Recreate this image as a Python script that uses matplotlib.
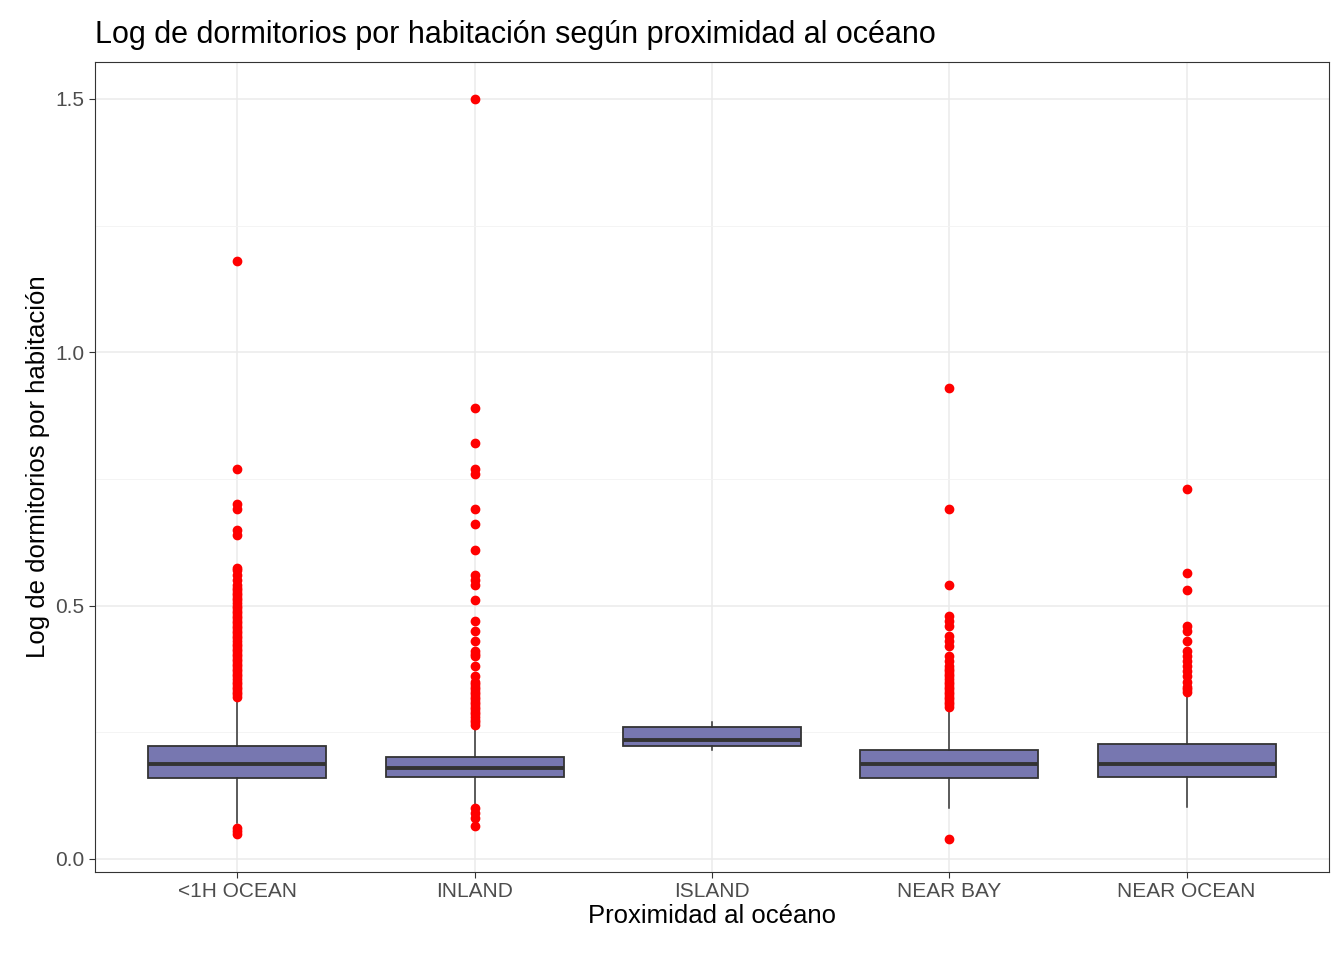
import matplotlib.pyplot as plt

plt.rcParams['font.family'] = ['Liberation Sans', 'DejaVu Sans']

categories = ["<1H OCEAN", "INLAND", "ISLAND", "NEAR BAY", "NEAR OCEAN"]
q1 = [0.160, 0.162, 0.223, 0.160, 0.162]
med = [0.187, 0.180, 0.235, 0.187, 0.187]
q3 = [0.223, 0.201, 0.260, 0.215, 0.227]
whislo = [0.071, 0.105, 0.215, 0.100, 0.103]
whishi = [0.318, 0.260, 0.270, 0.295, 0.322]
fliers = [
    [0.050, 0.055, 0.060, 0.32, 0.325, 0.33, 0.335, 0.34, 0.345, 0.35, 0.355, 0.36,
     0.365, 0.37, 0.375, 0.38, 0.385, 0.39, 0.395, 0.40, 0.405, 0.41, 0.415, 0.42,
     0.425, 0.43, 0.435, 0.44, 0.445, 0.45, 0.455, 0.46, 0.465, 0.47, 0.475, 0.48,
     0.485, 0.49, 0.495, 0.50, 0.505, 0.51, 0.515, 0.52, 0.525, 0.53, 0.535, 0.54,
     0.55, 0.56, 0.57, 0.575, 0.64, 0.65, 0.69, 0.70, 0.77, 1.18],
    [0.065, 0.08, 0.09, 0.10, 0.265, 0.27, 0.275, 0.28, 0.285, 0.29, 0.295, 0.30,
     0.305, 0.31, 0.315, 0.32, 0.325, 0.33, 0.335, 0.34, 0.345, 0.35, 0.36, 0.38,
     0.40, 0.405, 0.41, 0.43, 0.45, 0.47, 0.51, 0.54, 0.55, 0.56, 0.61, 0.66, 0.69,
     0.76, 0.77, 0.82, 0.89, 1.50],
    [],
    [0.04, 0.30, 0.305, 0.31, 0.315, 0.32, 0.325, 0.33, 0.335, 0.34, 0.345, 0.35,
     0.355, 0.36, 0.365, 0.37, 0.375, 0.38, 0.39, 0.40, 0.42, 0.43, 0.44, 0.46,
     0.47, 0.48, 0.54, 0.69, 0.93],
    [0.33, 0.335, 0.34, 0.35, 0.36, 0.37, 0.38, 0.39, 0.40, 0.41, 0.43, 0.45, 0.46,
     0.53, 0.565, 0.73],
]

stats = [dict(label=c, q1=a, med=m, q3=b, whislo=lo, whishi=hi, fliers=f)
         for c, a, m, b, lo, hi, f in zip(categories, q1, med, q3, whislo, whishi, fliers)]

fig = plt.figure(figsize=(13.44, 9.6), dpi=100)
ax = fig.add_axes([95 / 1344, 88 / 960, 1234 / 1344, 810 / 960])
ax.bxp(stats, positions=range(1, 6), widths=0.75, patch_artist=True,
       boxprops=dict(facecolor="#7777b0", edgecolor="#333333", linewidth=1.3),
       medianprops=dict(color="#333333", linewidth=2.8),
       whiskerprops=dict(color="#333333", linewidth=1.1),
       capprops=dict(linewidth=0),
       flierprops=dict(marker="o", markerfacecolor="red", markeredgecolor="red",
                       markersize=6))
ax.set_xlim(0.4, 5.6)
ax.set_ylim(-0.026, 1.573)
ax.set_yticks([0, 0.5, 1.0, 1.5])
ax.set_yticklabels(["0.0", "0.5", "1.0", "1.5"])
ax.set_yticks([0.25, 0.75, 1.25], minor=True)
ax.grid(True, which="major", color="#ebebeb", linewidth=1.1)
ax.grid(True, which="minor", axis="y", color="#f3f3f3", linewidth=0.6)
ax.set_axisbelow(True)
ax.tick_params(which="minor", length=0)
ax.tick_params(which="major", colors="#333333", labelsize=15, length=4)
ax.tick_params(axis="x", labelcolor="#4d4d4d")
ax.tick_params(axis="y", labelcolor="#4d4d4d")
for s in ax.spines.values():
    s.set_color("#333333")
ax.set_xlabel("Proximidad al océano", fontsize=18.5, labelpad=2)
ax.set_ylabel("Log de dormitorios por habitación", fontsize=18.5)
ax.set_title("Log de dormitorios por habitación según proximidad al océano",
             fontsize=22, loc="left", pad=14)
fig.savefig("out.png", dpi=100)
